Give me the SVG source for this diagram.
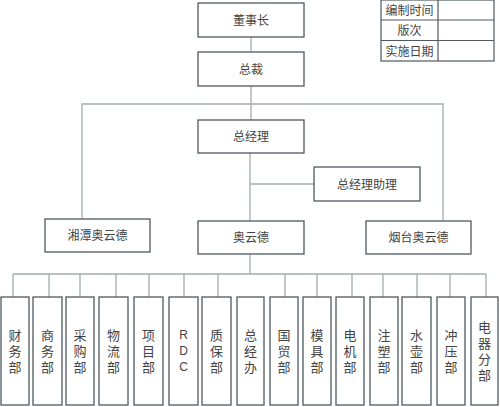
<svg xmlns="http://www.w3.org/2000/svg" width="500" height="407" viewBox="0 0 500 407">
<style>
.box{fill:#fff;stroke:#4e5963;stroke-width:1.3}
.cell{fill:none;stroke:#4e5963;stroke-width:1.2}
.ln{fill:none;stroke:#a3abab;stroke-width:1.3}
text{font-family:"Noto Sans CJK SC","Noto Sans",sans-serif;font-size:12px;fill:#444;text-anchor:middle}
.v{font-size:13px;writing-mode:vertical-rl;letter-spacing:3px}
.lat{font-family:"Liberation Sans","Noto Sans",sans-serif;font-size:12px}
</style>
<rect width="500" height="407" fill="#fff"/>
<g id="connectors">
<line class="ln" x1="251" y1="37" x2="251" y2="52"/>
<line class="ln" x1="251" y1="86" x2="251" y2="120"/>
<polyline class="ln" points="82,219 82,104 443,104 443,221"/>
<line class="ln" x1="250" y1="153" x2="250" y2="221"/>
<line class="ln" x1="250" y1="184" x2="314" y2="184"/>
<line class="ln" x1="250" y1="254" x2="250" y2="274"/>
<line class="ln" x1="13" y1="274" x2="486" y2="274"/>
<path class="ln" d="M13 274V297M49 274V297M80 274V297M116 274V297M149 274V297M184 274V297M218 274V297M285 274V297M317 274V297M352 274V297M383 274V297M417 274V297M450 274V297M486 274V297"/>
</g>
<g id="table">
<rect class="cell" x="381" y="0" width="113" height="61"/>
<line class="cell" x1="438" y1="0" x2="438" y2="61"/>
<line class="cell" x1="381" y1="20" x2="494" y2="20"/>
<line class="cell" x1="381" y1="40.5" x2="494" y2="40.5"/>
<text x="409.5" y="14.5">编制时间</text>
<text x="409.5" y="35">版次</text>
<text x="409.5" y="55.5">实施日期</text>
</g>
<g id="n-dongshizhang"><rect class="box" x="198" y="3" width="106" height="34"/><text x="251" y="24.5">董事长</text></g>
<g id="n-zongcai"><rect class="box" x="198" y="52" width="106" height="34"/><text x="251" y="73.5">总裁</text></g>
<g id="n-zongjingli"><rect class="box" x="198" y="120" width="106" height="33"/><text x="251" y="141">总经理</text></g>
<g id="n-zhuli"><rect class="box" x="314" y="167" width="106" height="34"/><text x="367" y="188.5">总经理助理</text></g>
<g id="n-xiangtan"><rect class="box" x="45" y="219" width="105" height="33"/><text x="97.5" y="240">湘潭奥云德</text></g>
<g id="n-aoyunde"><rect class="box" x="198" y="221" width="106" height="33"/><text x="251" y="242">奥云德</text></g>
<g id="n-yantai"><rect class="box" x="366" y="221" width="105" height="33"/><text x="418.5" y="242">烟台奥云德</text></g>
<g id="d1"><rect class="box" x="1" y="297" width="28" height="108"/><text class="v" x="15" y="352.5">财务部</text></g>
<g id="d2"><rect class="box" x="33" y="297" width="29" height="108"/><text class="v" x="47.5" y="352.5">商务部</text></g>
<g id="d3"><rect class="box" x="66" y="297" width="28" height="108"/><text class="v" x="80" y="352.5">采购部</text></g>
<g id="d4"><rect class="box" x="99" y="297" width="29" height="108"/><text class="v" x="113.5" y="352.5">物流部</text></g>
<g id="d5"><rect class="box" x="134" y="297" width="29" height="108"/><text class="v" x="148.5" y="352.5">项目部</text></g>
<g id="d6"><rect class="box" x="169" y="297" width="29" height="108"/><text class="lat" x="183.5" y="339">R</text><text class="lat" x="183.5" y="355">D</text><text class="lat" x="183.5" y="371">C</text></g>
<g id="d7"><rect class="box" x="202" y="297" width="29" height="108"/><text class="v" x="216.5" y="352.5">质保部</text></g>
<g id="d8"><rect class="box" x="237" y="297" width="27" height="108"/><text class="v" x="250.5" y="352.5">总经办</text></g>
<g id="d9"><rect class="box" x="270" y="297" width="28" height="108"/><text class="v" x="284" y="352.5">国贸部</text></g>
<g id="d10"><rect class="box" x="303" y="297" width="28" height="108"/><text class="v" x="317" y="352.5">模具部</text></g>
<g id="d11"><rect class="box" x="336" y="297" width="28" height="108"/><text class="v" x="350" y="352.5">电机部</text></g>
<g id="d12"><rect class="box" x="370" y="297" width="28" height="108"/><text class="v" x="384" y="352.5">注塑部</text></g>
<g id="d13"><rect class="box" x="402" y="297" width="29" height="108"/><text class="v" x="416.5" y="352.5">水壶部</text></g>
<g id="d14"><rect class="box" x="437" y="297" width="28" height="108"/><text class="v" x="451" y="352.5">冲压部</text></g>
<g id="d15"><rect class="box" x="471" y="297" width="27" height="108"/><text class="v" x="484.5" y="352.5">电器分部</text></g>
</svg>
